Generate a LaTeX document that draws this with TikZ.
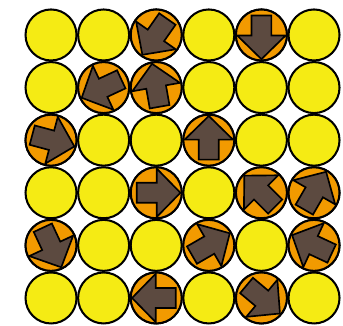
\documentclass[tikz,border=0pt]{standalone}
\definecolor{discyellow}{RGB}{245,235,20}
\definecolor{discorange}{RGB}{242,154,0}
\definecolor{arrowbrown}{RGB}{92,74,64}
\usepackage{tikz}

\begin{document}
\begin{tikzpicture}[
    disc/.style={circle, draw=black, line width=1.1pt, fill=discyellow,
                 minimum size=0.97cm, inner sep=0pt},
    turned/.style={disc, fill=discorange},
    blockarrow/.style={draw=black, line width=0.9pt, line join=miter, fill=arrowbrown}
  ]
  \useasboundingbox (0.03,-0.335) rectangle (6.551,-6.514);
  % the grid of discs
  \foreach \r in {1,...,6}
    \foreach \c in {1,...,6}
      \node[disc] (d\r\c) at (\c,-\r) {};
  % turned discs: row/column/angle of the arrow
  \foreach \r/\c/\a in {1/3/235, 1/5/270, 2/2/205, 2/3/100, 3/1/-15, 3/4/90,
                        4/3/0, 4/5/135, 4/6/60, 5/1/-65, 5/4/30, 5/6/155,
                        6/3/180, 6/5/-40}{
    \node[turned] (t\r\c) at (d\r\c) {};
    \draw[blockarrow, shift={(\c,-\r)}, rotate=\a]
      (-0.37,-0.19) -- (0.01,-0.19) -- (0.01,-0.46) -- (0.46,0)
      -- (0.01,0.46) -- (0.01,0.19) -- (-0.37,0.19) -- cycle;
  }
\end{tikzpicture}
\end{document}
